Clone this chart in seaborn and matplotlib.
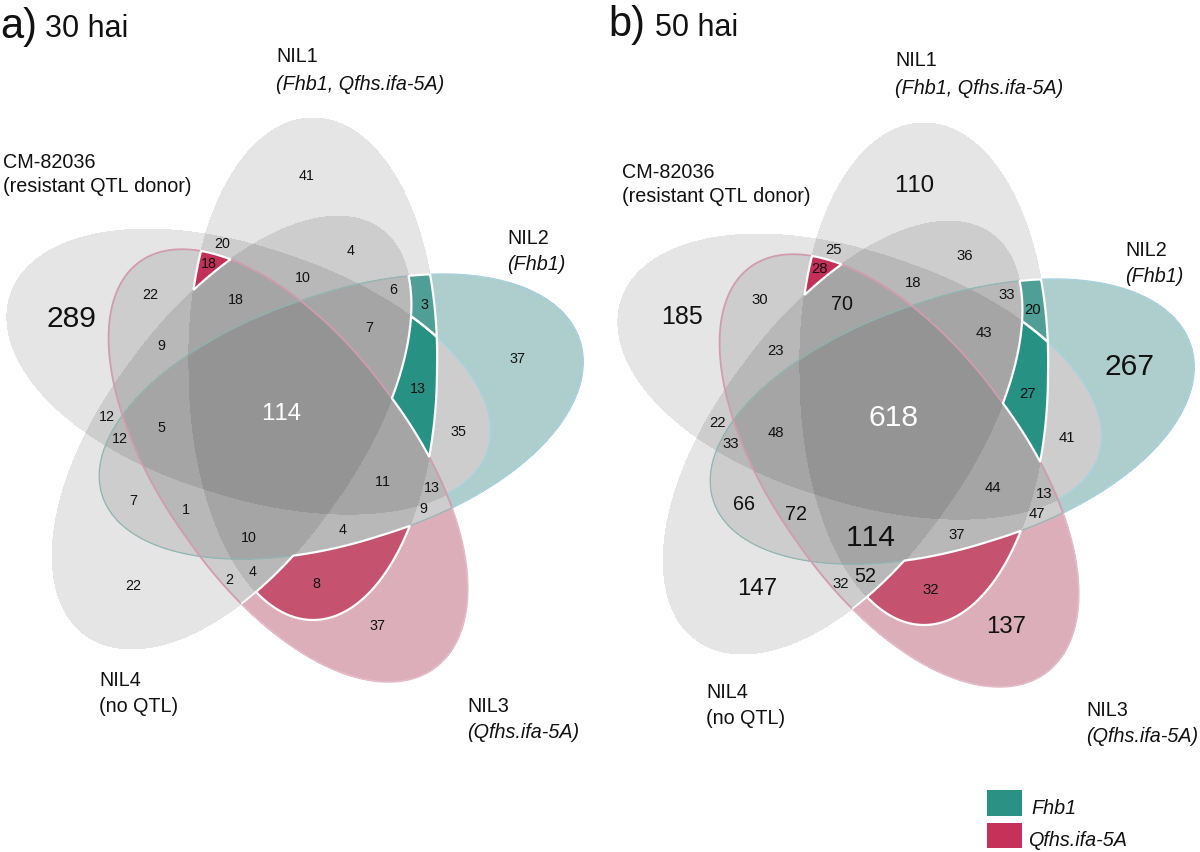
import numpy as np
import matplotlib
matplotlib.use("Agg")
import matplotlib.pyplot as plt
from matplotlib.patches import Rectangle
import seaborn as sns

# ---------- data ----------
set_names = ["NIL1", "NIL2", "NIL3", "NIL4", "CM-82036"]
set_sub = ["(Fhb1, Qfhs.ifa-5A)", "(Fhb1)", "(Qfhs.ifa-5A)", "(no QTL)", "(resistant QTL donor)"]
set_sub_italic = [True, True, True, False, False]

values_a = [289, 41, 20, 18, 22, 10, 4, 18, 6, 3, 7, 9, 13, 37, 114, 12, 12, 5, 35, 11, 13, 9, 7, 1, 10, 4, 2, 4, 8, 22, 37]
values_b = [185, 110, 25, 28, 30, 70, 18, 36, 33, 20, 43, 23, 267, 27, 618, 22, 33, 48, 41, 44, 13, 47, 66, 72, 114, 37, 32, 52, 32, 147, 137]
legend_names = ["Fhb1", "Qfhs.ifa-5A"]

# ---------- layout (pixels) ----------
ell_cx = [313, 341, 287, 233, 249]
ell_cy = [369, 418, 465, 432, 373]
ell_ang = [-90, -18, 54, 126, 198]   # direction of the outer lobe
ell_a, ell_b, egg = 251, 124, 0.05
panel_off = [(0, 0), (611, 5)]

pos_a = [(71,319),(307,176),(222,244),(209,264),(150,295),(303,278),(351,251),(236,300),(393,290),(424,305),
         (369,328),(161,346),(418,389),(517,359),(281,414),(107,417),(120,439),(161,428),(458,432),(383,482),
         (432,488),(423,509),(133,501),(186,510),(249,538),(343,530),(229,580),(253,572),(316,584),(133,586),(377,626)]
size_a = {0: 21.6, 14: 17.3}
pos_b = [(682,317),(914,186),(834,250),(820,269),(760,300),(842,305),(913,283),(965,256),(1007,295),(1033,310),
         (984,333),(776,351),(1130,367),(1027,394),(894,418),(717,423),(731,444),(776,433),(1067,438),(993,488),
         (1044,494),(1037,514),(744,505),(796,514),(871,538),(957,535),(841,584),(865,577),(931,590),(757,589),(1006,627)]
size_b = {0: 18, 1: 17.3, 5: 14.2, 12: 21.6, 14: 21.6, 22: 14.2, 23: 14.2, 24: 21.6, 27: 14.2, 29: 17.3, 30: 17.3}

lab_a = [(276,57,84),(507,239,265),(467,707,732),(99,680,706),(3,163,187)]
lab_b = [(895,60,88),(1125,251,276),(1086,710,736),(706,693,719),(622,173,197)]

teal_dark, teal_mid, teal_light = "#279184", "#4f9f96", "#aecdcd"
red_dark, red_mid, pink_light = "#c22f57", "#c5526f", "#dcaeba"
legend_cols = ["#2a9184", "#c53158"]
TXT = "#111111"

sns.set_theme(style="white")
plt.rcParams["font.family"] = ["Liberation Sans", "DejaVu Sans"]
plt.rcParams["text.kerning_factor"] = 6

fig = plt.figure(figsize=(12, 8.52), dpi=100)
ax = fig.add_axes([0, 0, 1, 1])
ax.set_xlim(0, 1200)
ax.set_ylim(852, 0)
ax.axis("off")

xg = np.arange(0, 1200, 0.5)
yg = np.arange(0, 852, 0.5)
X, Y = np.meshgrid(xg, yg)


def inside(i, dx, dy):
    t = np.deg2rad(ell_ang[i])
    px, py = X - ell_cx[i] - dx, Y - ell_cy[i] - dy
    u = px * np.cos(t) + py * np.sin(t)
    v = -px * np.sin(t) + py * np.cos(t)
    v = v / (1 + egg * np.clip(u, 0, None) / ell_a)
    return 1 - (u / ell_a) ** 2 - (v / ell_b) ** 2


def region(fields, yes, no):
    return np.minimum.reduce([fields[i] for i in yes] + [-fields[i] for i in no])


def fill(f, color, edge=None, lw=1.6, z=3):
    ax.contourf(X, Y, f, levels=[0, 1e6], colors=[color], zorder=z)
    if edge:
        ax.contour(X, Y, f, levels=[0], colors=[edge], linewidths=lw, zorder=z + 0.1)


for (dx, dy) in panel_off:
    F = [inside(i, dx, dy) for i in range(5)]
    for i in range(5):
        ax.contourf(X, Y, F[i], levels=[0, 1e6], colors=[(0, 0, 0, 0.10)], zorder=1)
    # exclusive coloured regions (NIL2 only, NIL3 only)
    fill(region(F, [1], [0, 2, 3, 4]), teal_light, "#a9d2dc", lw=1.2, z=2)
    fill(region(F, [2], [0, 1, 3, 4]), pink_light, "#e4bcc8", lw=1.2, z=2)
    # inner outlines of the two coloured sets (where they cross other sets)
    out2 = np.maximum.reduce([F[0], F[2], F[3], F[4]]) < 0
    out3 = np.maximum.reduce([F[0], F[1], F[3], F[4]]) < 0
    ax.contour(X, Y, np.ma.masked_where(out2, F[1]), levels=[0], colors=["#8fb6b3"], linewidths=0.9, zorder=2.5)
    ax.contour(X, Y, np.ma.masked_where(out3, F[2]), levels=[0], colors=["#d29cae"], linewidths=1.3, zorder=2.5)
    # highlighted regions
    fill(region(F, [0, 1, 4], [2, 3]), teal_dark, "white", z=3)
    fill(region(F, [0, 1], [2, 3, 4]), teal_mid, "white", z=3)
    fill(region(F, [0, 2, 4], [1, 3]), red_dark, "white", z=3)
    fill(region(F, [0, 2], [1, 3, 4]), red_mid, "white", z=3)
    # short white edge between the NIL3-only lobe and NIL3 & NIL4
    tail = np.ma.masked_where((F[2] < 0) | (F[0] > 0) | (F[1] > 0) | (F[4] > 0), F[3])
    ax.contour(X, Y, tail, levels=[0], colors=["white"], linewidths=1.4, zorder=3.2)

for vals, pos, sizes, base in [(values_a, pos_a, size_a, 10.3), (values_b, pos_b, size_b, 10.7)]:
    for k, (v, (x, y)) in enumerate(zip(vals, pos)):
        ax.text(x, y, str(v), ha="center", va="center", fontsize=sizes.get(k, base),
                color="white" if k == 14 else TXT, zorder=6)

for lab in (lab_a, lab_b):
    for i, (x, y1, y2) in enumerate(lab):
        ax.text(x, y1, set_names[i], ha="left", va="center", fontsize=14.2, color=TXT, zorder=6)
        ax.text(x, y2, set_sub[i], ha="left", va="center", fontsize=14.2, color=TXT,
                style="italic" if set_sub_italic[i] else "normal", zorder=6)

ax.text(0, 27, "a)", fontsize=30, ha="left", va="center", color=TXT)
ax.text(45, 29, "30 hai", fontsize=22, ha="left", va="center", color=TXT)
ax.text(608, 25, "b)", fontsize=30, ha="left", va="center", color=TXT)
ax.text(655, 28, "50 hai", fontsize=22, ha="left", va="center", color=TXT)

ax.add_patch(Rectangle((987, 790), 35, 26, facecolor=legend_cols[0], edgecolor="none"))
ax.add_patch(Rectangle((987, 823), 35, 25, facecolor=legend_cols[1], edgecolor="none"))
ax.text(1031, 808, legend_names[0], style="italic", fontsize=14.2, va="center", color=TXT)
ax.text(1028, 841, legend_names[1], style="italic", fontsize=14.2, va="center", color=TXT)

fig.savefig("out.png", dpi=100)
